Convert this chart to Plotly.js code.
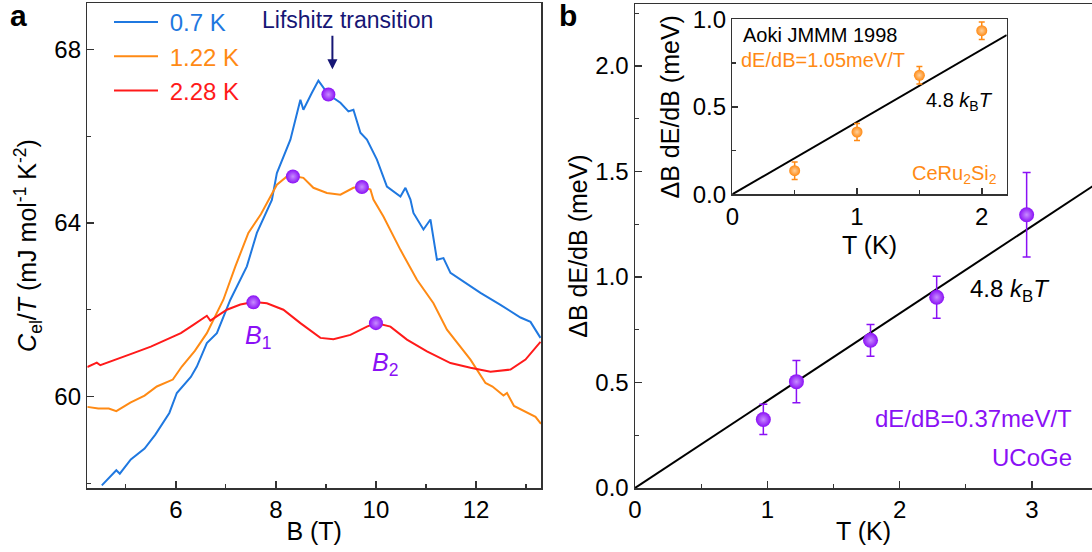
<!DOCTYPE html>
<html>
<head>
<meta charset="utf-8">
<script src="https://cdn.plot.ly/plotly-3.0.1.min.js"></script>
<style>
  html, body { margin: 0; padding: 0; background: #fff; }
  #chart { width: 1092px; height: 552px; }
</style>
</head>
<body>
<div id="chart"></div>
<script>
// ---- Panel a: electronic specific heat C_el/T versus field B ----
const B_07K = [4.52, 4.69, 4.81, 4.88, 5.10, 5.375, 5.59, 5.87, 6.02, 6.30, 6.42, 6.62, 6.82, 7.09, 7.42, 7.62, 7.92, 8.02, 8.29, 8.49, 8.55, 8.72, 8.85, 9.05, 9.29, 9.45, 9.55, 9.69, 9.82, 10.02, 10.22, 10.49, 10.59, 10.69, 10.75, 10.95, 11.09, 11.22, 11.35, 11.49, 11.69, 12.09, 12.49, 12.89, 13.09, 13.29];
const C_07K = [57.95, 58.15, 58.30, 58.22, 58.55, 58.80, 59.12, 59.62, 60.08, 60.45, 60.69, 61.23, 61.46, 62.23, 63.00, 63.77, 64.53, 65.15, 65.92, 66.84, 66.61, 67.00, 67.28, 66.96, 66.77, 66.57, 66.61, 66.08, 65.92, 65.46, 64.84, 64.61, 64.81, 64.54, 64.23, 63.85, 64.08, 63.15, 63.19, 62.85, 62.69, 62.39, 62.11, 61.82, 61.72, 61.35];

const B_122K = [4.23, 4.45, 4.66, 4.81, 5.09, 5.375, 5.62, 5.94, 6.12, 6.38, 6.62, 6.95, 7.19, 7.45, 7.70, 7.89, 8.02, 8.22, 8.34, 8.55, 8.75, 9.02, 9.29, 9.55, 9.72, 9.89, 9.95, 10.15, 10.49, 10.82, 11.15, 11.42, 11.65, 11.89, 12.19, 12.33, 12.55, 12.62, 12.76, 12.97, 13.19, 13.30];
const C_122K = [59.76, 59.72, 59.72, 59.66, 59.86, 60.02, 60.23, 60.39, 60.69, 61.05, 61.46, 62.23, 63.00, 63.77, 64.20, 64.60, 64.88, 65.07, 65.08, 65.04, 64.81, 64.69, 64.65, 64.81, 64.84, 64.77, 64.54, 64.15, 63.38, 62.69, 62.15, 61.54, 61.20, 60.85, 60.31, 60.23, 60.02, 60.08, 59.78, 59.66, 59.53, 59.37];

const B_228K = [4.23, 4.42, 4.49, 4.80, 5.15, 5.50, 5.82, 6.10, 6.35, 6.55, 6.62, 6.69, 7.02, 7.29, 7.55, 7.82, 8.15, 8.49, 8.89, 9.15, 9.49, 9.82, 10.00, 10.29, 10.62, 11.02, 11.49, 11.89, 12.29, 12.69, 12.99, 13.29];
const C_228K = [60.68, 60.78, 60.72, 60.86, 61.00, 61.15, 61.31, 61.46, 61.65, 61.80, 61.86, 61.75, 62.00, 62.12, 62.18, 62.15, 62.00, 61.69, 61.35, 61.32, 61.42, 61.61, 61.69, 61.61, 61.31, 61.04, 60.77, 60.66, 60.57, 60.62, 60.85, 61.26];

// Marked features: Lifshitz peak (0.7 K), split peaks (1.22 K), B1 / B2 (2.28 K)
const featB = [9.05, 8.34, 9.72, 7.55, 10.00];
const featC = [66.96, 65.07, 64.83, 62.17, 61.69];

// ---- Panel b: peak width ΔB·dE/dB versus temperature ----
const T_UCoGe = [0.97, 1.22, 1.78, 2.28, 2.96];
const W_UCoGe = [0.325, 0.504, 0.70, 0.904, 1.295];
const E_UCoGe = [0.072, 0.10, 0.075, 0.10, 0.20];

const T_CeRu2Si2 = [0.5, 1.0, 1.5, 2.0];
const W_CeRu2Si2 = [0.135, 0.356, 0.68, 0.935];
const E_CeRu2Si2 = [0.05, 0.048, 0.05, 0.05];

// 4.8 k_B T reference line (k_B in meV/K)
const kB = 0.08617;
const widthFactor = 4.8;
const fitT_main = [0, 3.6];
const fitT_inset = [0, 2.2];
const fitLine = ts => ts.map(t => widthFactor * kB * t);

const FONT = 'Liberation Sans, Arial, Helvetica, sans-serif';
const W = 1092, H = 552;
const px = v => v / W;            // horizontal pixel -> paper
const py = v => 1 - v / H;        // vertical pixel -> paper

const BLUE = '#1f78e0', ORANGE = '#ff8a14', RED = '#ff1a1a';
const PURPLE = '#8a10f5', NAVY = '#161675', AXIS = '#333333';
const PAD = '\u00a0';  // gap between legend line and label

const sphere = (color, size, glow) => ({
  color: color, size: size,
  gradient: {type: 'radial', color: glow},
  line: {width: 0}
});

const traces = [
  {x: B_07K, y: C_07K, xaxis: 'x', yaxis: 'y', mode: 'lines',
   line: {color: BLUE, width: 2}, name: PAD + '<span style="color:' + BLUE + '">0.7 K</span>'},
  {x: B_122K, y: C_122K, xaxis: 'x', yaxis: 'y', mode: 'lines',
   line: {color: ORANGE, width: 2}, name: PAD + '<span style="color:' + ORANGE + '">1.22 K</span>'},
  {x: B_228K, y: C_228K, xaxis: 'x', yaxis: 'y', mode: 'lines',
   line: {color: RED, width: 2}, name: PAD + '<span style="color:' + RED + '">2.28 K</span>'},
  {x: featB, y: featC, xaxis: 'x', yaxis: 'y', mode: 'markers', showlegend: false,
   marker: sphere(PURPLE, 14, '#c78cff')},

  {x: fitT_main, y: fitLine(fitT_main), xaxis: 'x2', yaxis: 'y2', mode: 'lines',
   line: {color: '#000', width: 2}, showlegend: false},
  {x: T_UCoGe, y: W_UCoGe, xaxis: 'x2', yaxis: 'y2', mode: 'markers', showlegend: false,
   error_y: {type: 'data', array: E_UCoGe, visible: true, color: PURPLE, thickness: 1.5, width: 4},
   marker: sphere(PURPLE, 15, '#c78cff')},

  {x: fitT_inset, y: fitLine(fitT_inset), xaxis: 'x3', yaxis: 'y3', mode: 'lines',
   line: {color: '#000', width: 2}, showlegend: false},
  {x: T_CeRu2Si2, y: W_CeRu2Si2, xaxis: 'x3', yaxis: 'y3', mode: 'markers', showlegend: false,
   error_y: {type: 'data', array: E_CeRu2Si2, visible: true, color: ORANGE, thickness: 1.5, width: 3},
   marker: sphere(ORANGE, 11, '#ffd09a')}
];

const baseAxis = {
  showgrid: false, zeroline: false, showline: true,
  linecolor: AXIS, linewidth: 1.5,
  ticks: 'inside', ticklen: 7, tickwidth: 1.5, tickcolor: AXIS,
  tickfont: {family: FONT, size: 24, color: '#000'},
  automargin: false
};
const ax = (extra) => Object.assign({}, baseAxis, extra);
const minor = (d) => ({dtick: d, ticks: 'inside', ticklen: 4, tickwidth: 1.2, tickcolor: AXIS});
const titleFont = {family: FONT, size: 25, color: '#000'};

// text label placed at a pixel position, centred unless told otherwise
const label = (text, x, y, size, color, opts) => Object.assign({
  text: text, xref: 'paper', yref: 'paper', x: px(x), y: py(y),
  xanchor: 'center', yanchor: 'middle', showarrow: false,
  font: {family: FONT, size: size, color: color}
}, opts || {});

const layout = {
  width: W, height: H,
  margin: {l: 0, r: 0, t: 0, b: 0},
  paper_bgcolor: '#fff', plot_bgcolor: '#fff',
  font: {family: FONT, color: '#000'},
  showlegend: true,
  legend: {
    x: px(109), y: 1, xanchor: 'left', yanchor: 'top',
    bgcolor: 'rgba(0,0,0,0)', font: {family: FONT, size: 24},
    itemwidth: 44, tracegroupgap: 0
  },

  xaxis: ax({domain: [px(87.3), px(541)], range: [4.23, 13.30], anchor: 'y',
             tickvals: [6, 8, 10, 12], mirror: true, minor: minor(1),
             title: {text: 'B (T)', font: titleFont, standoff: 0}}),
  yaxis: ax({domain: [py(488), py(3)], range: [57.89, 69.07], anchor: 'x',
             tickvals: [60, 64, 68], mirror: true, minor: minor(2),
             title: {text: '<i>C</i><sub>el</sub>/<i>T</i> (mJ mol<sup>-1</sup> K<sup>-2</sup>)', font: titleFont, standoff: 10}}),

  xaxis2: ax({domain: [px(635), 1], range: [0, 3.454], anchor: 'y2',
              dtick: 1, mirror: true, minor: minor(0.5),
              title: {text: 'T (K)', font: titleFont, standoff: 0}}),
  yaxis2: ax({domain: [py(488), py(4)], range: [0, 2.294], anchor: 'x2',
              dtick: 0.5, tickformat: '.1f', minor: minor(0.25),
              title: {text: 'ΔB dE/dB (meV)', font: titleFont, standoff: 0}}),

  xaxis3: ax({domain: [px(732.3), px(1006.7)], range: [0, 2.2], anchor: 'y3',
              dtick: 1, mirror: true, minor: minor(0.5), ticklen: 6,
              title: {text: 'T (K)', font: titleFont, standoff: 8}}),
  yaxis3: ax({domain: [py(194.3), py(19.3)], range: [0, 1.0], anchor: 'x3',
              dtick: 0.5, tickformat: '.1f', mirror: true, minor: minor(0.25), ticklen: 6,
              title: {text: 'ΔB dE/dB (meV)', font: titleFont, standoff: 6}}),

  annotations: [
    label('<b>a</b>', 18, 15, 30, '#000'),
    label('<b>b</b>', 568, 15, 30, '#000'),

    label('Lifshitz transition', 347, 20, 23, NAVY),
    {text: '', xref: 'x', yref: 'y', x: 9.13, y: 67.54, ax: 0, ay: -35,
     showarrow: true, arrowhead: 2, arrowsize: 1, arrowwidth: 2, arrowcolor: NAVY},
    {text: '<i>B</i><sub>1</sub>', xref: 'x', yref: 'y', x: 7.65, y: 61.37,
     xanchor: 'center', yanchor: 'middle',
     showarrow: false, font: {family: FONT, size: 25, color: PURPLE}},
    {text: '<i>B</i><sub>2</sub>', xref: 'x', yref: 'y', x: 10.18, y: 60.75,
     xanchor: 'center', yanchor: 'middle',
     showarrow: false, font: {family: FONT, size: 25, color: PURPLE}},

    label('4.8 <i>k</i><sub>B</sub><i>T</i>', 1010, 290, 24, '#000'),
    label('dE/dB=0.37meV/T', 1074, 418, 24, PURPLE, {xanchor: 'right'}),
    label('UCoGe', 1074, 457, 24, PURPLE, {xanchor: 'right'}),

    label('Aoki JMMM 1998', 741, 35, 20, '#000', {xanchor: 'left'}),
    label('dE/dB=1.05meV/T', 739, 60, 20, ORANGE, {xanchor: 'left'}),
    label('4.8 <i>k</i><sub>B</sub><i>T</i>', 924, 101, 20, '#000', {xanchor: 'left'}),
    label('CeRu<sub>2</sub>Si<sub>2</sub>', 999, 174, 20, ORANGE, {xanchor: 'right'})
  ]
};

Plotly.newPlot('chart', traces, layout, {staticPlot: true, displayModeBar: false});
</script>
</body>
</html>
